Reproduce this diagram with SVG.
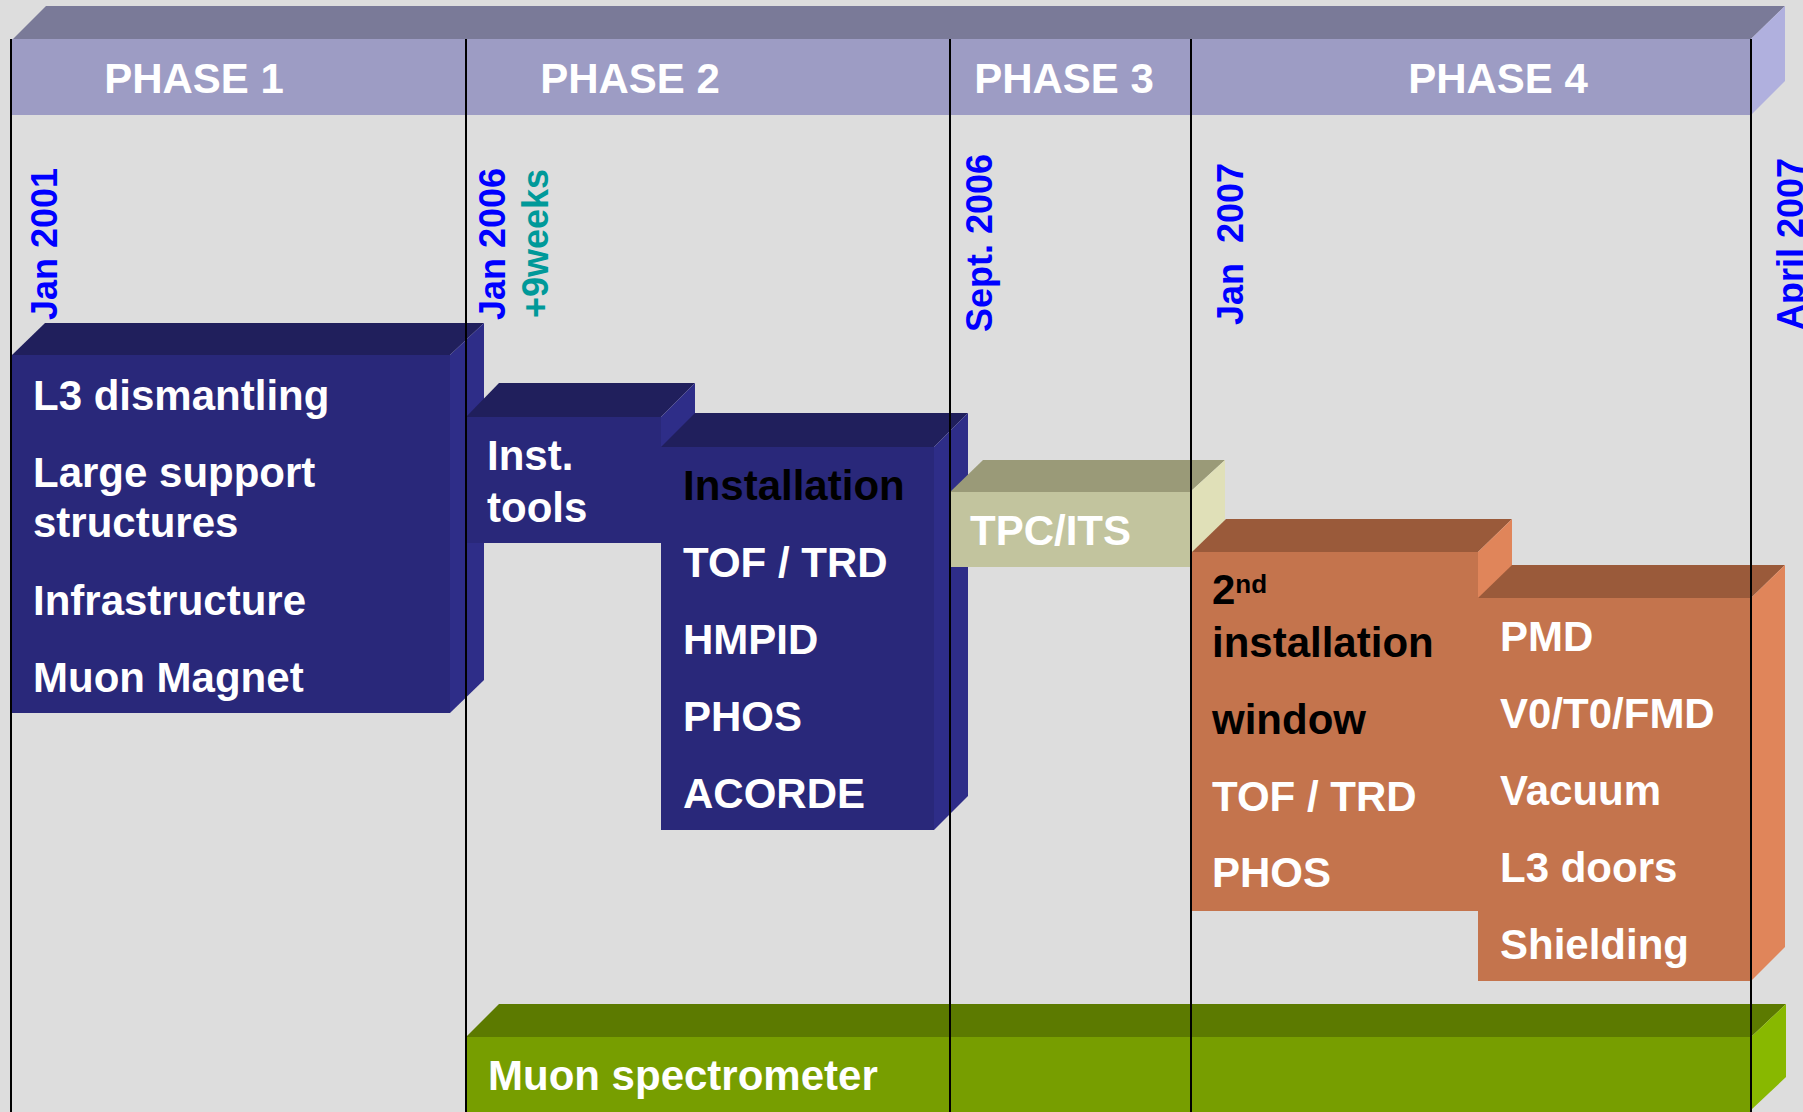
<svg xmlns="http://www.w3.org/2000/svg" width="1803" height="1112" viewBox="0 0 1803 1112">
<style>
text{font-family:"Liberation Sans",Arial,sans-serif;font-weight:bold}
.lbl{font-size:42px;fill:#ffffff}
.blk{font-size:42px;fill:#000000}
.ph{font-size:42px;fill:#ffffff;text-anchor:middle}
.date{font-size:36px;fill:#0000ff}
.wk{font-size:36px;fill:#009999}
.nT{fill:#201f5c}.nF{fill:#29287a}.nR{fill:#2e2d88}
.oT{fill:#9a5a3a}.oF{fill:#c4744d}.oR{fill:#e0855a}
.grid{stroke:#000000;stroke-width:2;fill:none}
</style>
<rect width="1803" height="1112" fill="#dddddd"/>
<g id="header">
<polygon points="13,39 46,6 1785,6 1751,39" fill="#7a7a98"/>
<rect x="11" y="39" width="1740" height="76" fill="#9d9cc4"/>
<polygon points="1751,39 1785,6 1785,81 1751,115" fill="#b0b0de"/>
<text class="ph" x="194" y="93">PHASE 1</text>
<text class="ph" x="630" y="93">PHASE 2</text>
<text class="ph" x="1064" y="93">PHASE 3</text>
<text class="ph" x="1498" y="93">PHASE 4</text>
</g>
<g id="phase1-block">
<polygon class="nT" points="12,355 45,323 484,323 450,355"/>
<rect class="nF" x="12" y="355" width="438" height="358"/>
<polygon class="nR" points="450,355 484,323 484,680 450,713"/>
<text class="lbl" x="33" y="410">L3 dismantling</text>
<text class="lbl" x="33" y="487">Large support</text>
<text class="lbl" x="33" y="537">structures</text>
<text class="lbl" x="33" y="615">Infrastructure</text>
<text class="lbl" x="33" y="692">Muon Magnet</text>
</g>
<g id="inst-tools">
<polygon class="nT" points="466,417 499,383 695,383 661,417"/>
<rect class="nF" x="466" y="417" width="195" height="126"/>
<polygon class="nR" points="661,417 695,383 695,520 661,550"/>
<text class="lbl" x="487" y="470">Inst.</text>
<text class="lbl" x="487" y="522">tools</text>
</g>
<g id="installation">
<polygon class="nT" points="661,447 695,413 968,413 934,447"/>
<rect class="nF" x="661" y="447" width="273" height="383"/>
<polygon class="nR" points="934,447 968,413 968,796 934,830"/>
<text class="blk" x="683" y="500">Installation</text>
<text class="lbl" x="683" y="577">TOF / TRD</text>
<text class="lbl" x="683" y="654">HMPID</text>
<text class="lbl" x="683" y="731">PHOS</text>
<text class="lbl" x="683" y="808">ACORDE</text>
</g>
<g id="tpc-its">
<polygon points="950,492 983,460 1225,460 1190,492" fill="#9a9a78"/>
<rect x="950" y="492" width="240" height="75" fill="#c2c49e"/>
<polygon points="1190,492 1225,460 1225,535 1190,567" fill="#e0e0b8"/>
<text class="lbl" x="970" y="545">TPC/ITS</text>
</g>
<g id="second-window">
<polygon class="oT" points="1192,552 1226,519 1512,519 1478,552"/>
<rect class="oF" x="1192" y="552" width="286" height="359"/>
<polygon class="oR" points="1478,552 1512,519 1512,880 1478,911"/>
<text class="blk" x="1212" y="604">2<tspan font-size="26" dy="-11">nd</tspan></text>
<text class="blk" x="1212" y="657">installation</text>
<text class="blk" x="1212" y="734">window</text>
<text class="lbl" x="1212" y="811">TOF / TRD</text>
<text class="lbl" x="1212" y="887">PHOS</text>
</g>
<g id="phase4-block">
<polygon class="oT" points="1478,598 1512,565 1785,565 1751,598"/>
<rect class="oF" x="1478" y="598" width="273" height="383"/>
<polygon class="oR" points="1751,598 1785,565 1785,947 1751,981"/>
<text class="lbl" x="1500" y="651">PMD</text>
<text class="lbl" x="1500" y="728">V0/T0/FMD</text>
<text class="lbl" x="1500" y="805">Vacuum</text>
<text class="lbl" x="1500" y="882">L3 doors</text>
<text class="lbl" x="1500" y="959">Shielding</text>
</g>
<g id="muon-spectrometer">
<polygon points="466,1037 499,1004 1786,1004 1751,1037" fill="#5c7a00"/>
<rect x="466" y="1037" width="1285" height="80" fill="#779e00"/>
<polygon points="1751,1037 1786,1004 1786,1077 1751,1110" fill="#88b800"/>
<text class="lbl" x="488" y="1090">Muon spectrometer</text>
</g>
<g id="connectors">
<line class="grid" x1="11" y1="39" x2="11" y2="1112"/>
<line class="grid" x1="466" y1="39" x2="466" y2="1112"/>
<line class="grid" x1="950" y1="39" x2="950" y2="1112"/>
<line class="grid" x1="1191" y1="39" x2="1191" y2="1112"/>
<line class="grid" x1="1751" y1="39" x2="1751" y2="1112"/>
</g>
<g id="dates">
<text class="date" transform="translate(57,320) rotate(-90)">Jan 2001</text>
<text class="date" transform="translate(505,320) rotate(-90)">Jan 2006</text>
<text class="wk" transform="translate(548,318) rotate(-90)">+9weeks</text>
<text class="date" transform="translate(992,332) rotate(-90)">Sept. 2006</text>
<text class="date" transform="translate(1243,325) rotate(-90)" xml:space="preserve">Jan  2007</text>
<text class="date" transform="translate(1803,330) rotate(-90)">April 2007</text>
</g>
</svg>
